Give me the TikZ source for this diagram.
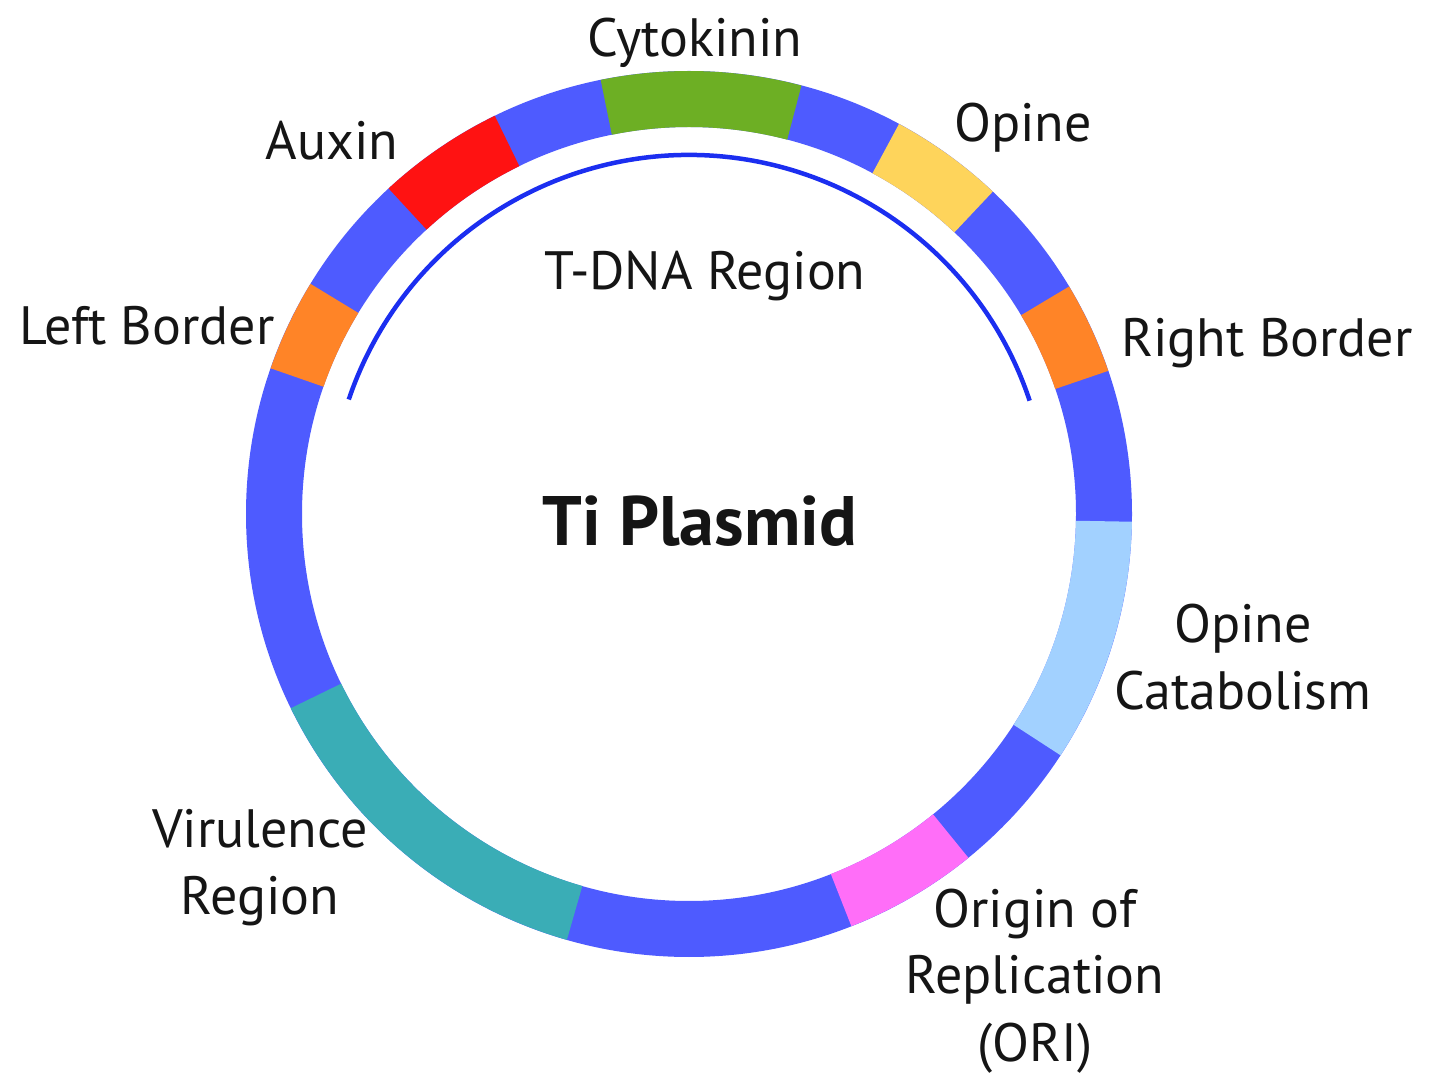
\documentclass[tikz,border=0pt]{standalone}
\usepackage{fontspec}
\setmainfont{PT Sans}
\definecolor{tiblue}{HTML}{4E5BFF}
\definecolor{tigreen}{HTML}{6DAF24}
\definecolor{tired}{HTML}{FF1212}
\definecolor{tiorange}{HTML}{FF8427}
\definecolor{tiyellow}{HTML}{FED45B}
\definecolor{titeal}{HTML}{3AADB6}
\definecolor{tipink}{HTML}{FF6EF8}
\definecolor{tilight}{HTML}{A2D1FF}
\definecolor{tiarc}{HTML}{1B2EF0}
\definecolor{titext}{HTML}{151515}
\tikzset{
  lbl/.style={text=titext, font=\fontsize{54}{67}\selectfont, inner sep=0pt, anchor=base},
  title/.style={text=titext, font=\fontsize{70}{80}\selectfont\bfseries, inner sep=0pt, anchor=base},
}
\newcommand\tiseg[3]{\fill[#3] (#1:443pt) arc[start angle=#1, end angle=#2, radius=443pt] -- (#2:387pt) arc[start angle=#2, end angle=#1, radius=387pt] -- cycle;}
\begin{document}
\begin{tikzpicture}[x=1pt,y=1pt]
\useasboundingbox (0,0) rectangle (1440,1090);
\begin{scope}[shift={(689,576)}]
  \fill[tiblue, even odd rule] (0,0) circle[radius=443pt] (0,0) circle[radius=387pt];
  \tiseg{18.85}{30.9}{tiorange}
  \tiseg{46.7}{61.7}{tiyellow}
  \tiseg{75.3}{101.5}{tigreen}
  \tiseg{116}{132.7}{tired}
  \tiseg{148.7}{160.8}{tiorange}
  \tiseg{206}{254}{titeal}
  \tiseg{291.5}{309.1}{tipink}
  \tiseg{327}{359}{tilight}
  \draw[tiarc, line width=4.5pt] (18.4:359pt) arc[start angle=18.4, end angle=161.4, radius=359pt];
\end{scope}
\node[lbl] (cyto) at (695,1033) {Cytokinin};
\node[lbl] (auxin) at (332,930) {Auxin};
\node[lbl] (opine) at (1023,948) {Opine};
\node[lbl] (lb) at (147,745) {Left Border};
\node[lbl] (rb) at (1267,733) {Right Border};
\node[lbl] (tdna) at (705,800) {T-DNA Region};
\node[title] (ti) at (700,544) {Ti Plasmid};
\node[lbl] (opcat) at (1243,447) {\begin{tabular}[t]{@{}c@{}}Opine\\Catabolism\end{tabular}};
\node[lbl] (vir) at (260,242) {\begin{tabular}[t]{@{}c@{}}Virulence\\Region\end{tabular}};
\node[lbl] (ori) at (1035,163) {\begin{tabular}[t]{@{}c@{}}Origin of\\Replication\\(ORI)\end{tabular}};
\end{tikzpicture}
\end{document}
